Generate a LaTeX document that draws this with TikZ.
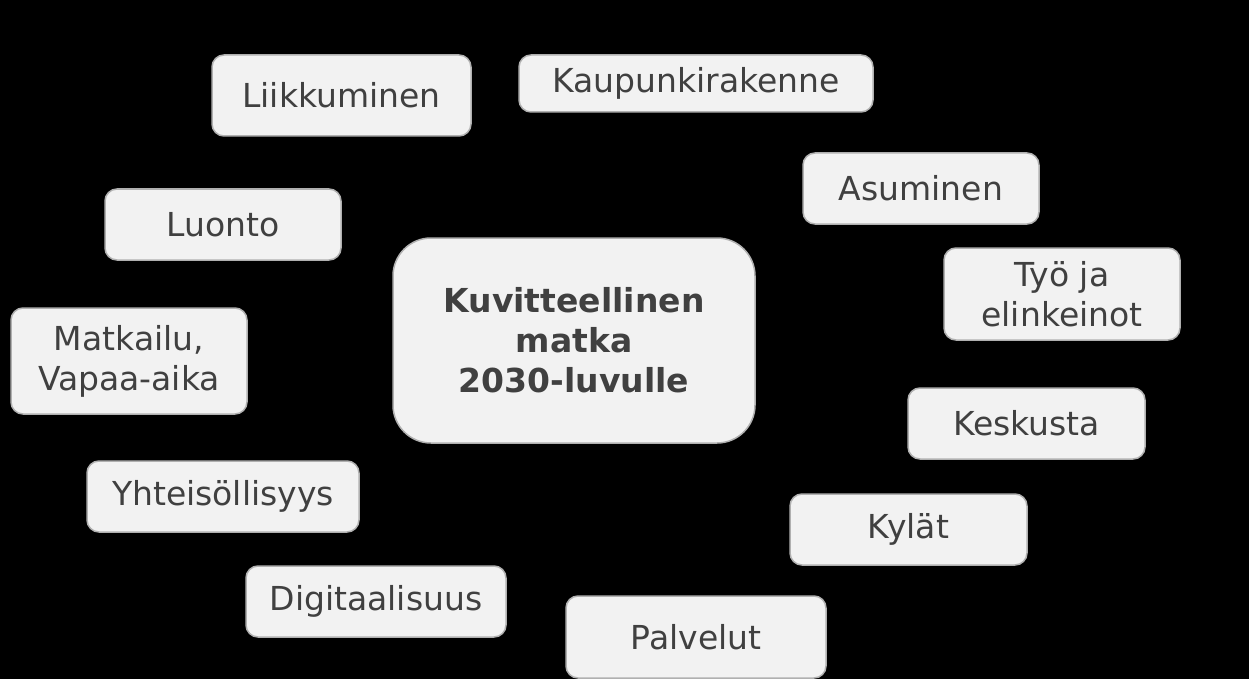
\documentclass[tikz,border=0pt]{standalone}
\usepackage{fontspec}
\setmainfont{DejaVu Sans}
\definecolor{boxfill}{HTML}{F2F2F2}
\definecolor{boxline}{HTML}{B0B0B0}
\definecolor{boxtext}{HTML}{404040}
\tikzset{
  topic/.style={draw=boxline, fill=boxfill, line width=1.5pt, rounded corners=12pt,
    inner sep=0pt, text=boxtext, align=center,
    font=\fontsize{33}{40}\selectfont},
  hub/.style={topic, rounded corners=38pt, font=\fontsize{33}{40}\selectfont\bfseries}
}
\newcommand{\bx}[6]{\node[#1, minimum width=#4pt-#2pt, minimum height=#5pt-#3pt] (#6) at ({(#2+#4)/2},{(#3+#5)/2})}
\begin{document}
\begin{tikzpicture}[x=1pt,y=-1pt]
\fill[black] (0,0) rectangle (1249,679);
\useasboundingbox (0,0) rectangle (1249,679);
\bx{hub}{393}{238}{755}{443}{c} {Kuvitteellinen\\matka\\2030-luvulle};
\bx{topic}{212}{55}{471}{136}{liik} {Liikkuminen};
\bx{topic}{519}{55}{873}{112}{kaup} {Kaupunkirakenne};
\bx{topic}{803}{153}{1039}{224}{asu} {Asuminen};
\bx{topic}{105}{189}{341}{260}{luo} {Luonto};
\bx{topic}{944}{248}{1180}{340}{tyo} {Työ ja\\elinkeinot};
\bx{topic}{11}{308}{247}{414}{mat} {Matkailu,\\Vapaa-aika};
\bx{topic}{908}{388}{1145}{459}{kes} {Keskusta};
\bx{topic}{87}{461}{359}{532}{yht} {Yhteisöllisyys};
\bx{topic}{790}{494}{1027}{565}{kyl} {Kylät};
\bx{topic}{246}{566}{506}{637}{dig} {Digitaalisuus};
\bx{topic}{566}{596}{826}{678}{pal} {Palvelut};
\end{tikzpicture}
\end{document}
